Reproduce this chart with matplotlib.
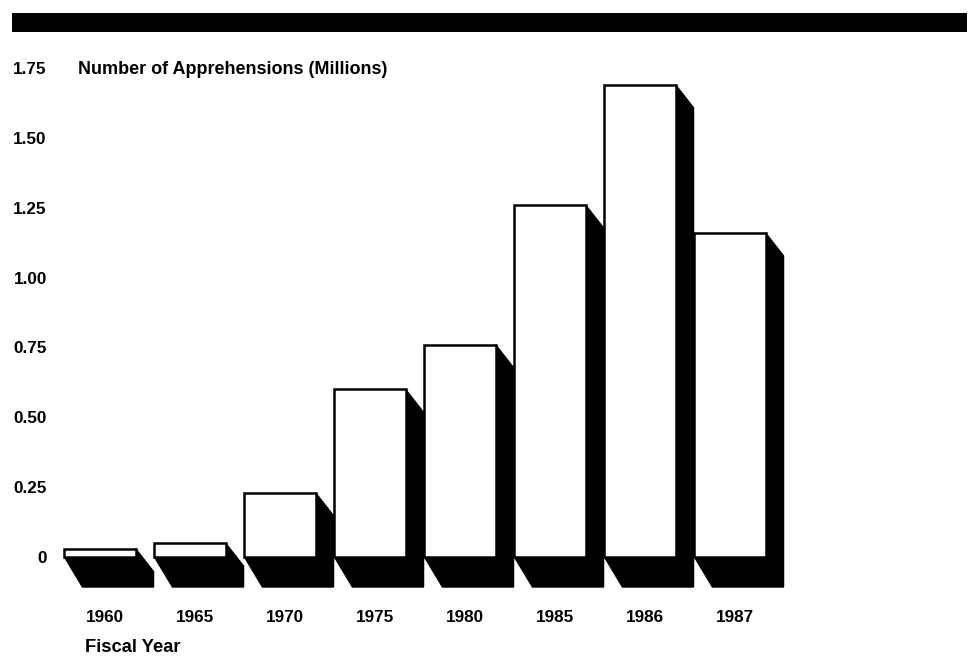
import matplotlib
matplotlib.use("Agg")
from matplotlib import pyplot as plt
from matplotlib.patches import Polygon, Rectangle

years = ["1960", "1965", "1970", "1975", "1980", "1985", "1986", "1987"]
apprehensions = [0.03, 0.05, 0.23, 0.60, 0.76, 1.26, 1.69, 1.16]
ytick_values = [0, 0.25, 0.50, 0.75, 1.00, 1.25, 1.50, 1.75]
ytick_labels = ["0", "0.25", "0.50", "0.75", "1.00", "1.25", "1.50", "1.75"]

W, H = 976, 658
plt.rcParams['font.family'] = ['Liberation Sans', 'DejaVu Sans']
plt.rcParams['font.weight'] = 'bold'

fig = plt.figure(figsize=(W / 100, H / 100), dpi=100)
fig.patch.set_facecolor("white")

# black banner along the top
fig.patches.append(Rectangle((12 / W, 1 - 32 / H), 955 / W, 19 / H,
                             transform=fig.transFigure, facecolor="black",
                             edgecolor="none"))

# plot area: y=0 sits at pixel row 557, 1.75 at row 68; bars every 90 px
ax = fig.add_axes([60 / W, (H - 557) / H, 740 / W, (557 - 68) / H])
ax.set_ylim(0, 1.75)
ax.set_xlim((60 - 100) / 90, (800 - 100) / 90)
for s in ax.spines.values():
    s.set_visible(False)

width = 0.79
dx = 18 / 90          # depth of the shaded side, in x units
dy_top = 23 / 279.4   # drop of the side face at the top
dy_bot = 30 / 279.4   # drop of the floor shadow

xs = list(range(len(years)))
for x, h in zip(xs, apprehensions):
    x0, x1 = x - width / 2, x + width / 2
    shade = Polygon([(x1, h), (x1 + dx, h - dy_top), (x1 + dx, -dy_bot),
                     (x0 + dx, -dy_bot), (x0, 0), (x1, 0)],
                    closed=True, facecolor="black", edgecolor="black",
                    lw=1, clip_on=False, zorder=1)
    ax.add_patch(shade)

ax.bar(xs, apprehensions, width=width, color="white", edgecolor="black",
       linewidth=1.8, zorder=2, clip_on=False)

ax.set_yticks(ytick_values)
ax.set_yticklabels(ytick_labels, fontsize=12.3, fontweight="bold")
ax.tick_params(axis="y", length=0, pad=9.5)
ax.set_xticks([x + 0.06 for x in xs])
ax.set_xticklabels(years, fontsize=12.3, fontweight="bold")
ax.tick_params(axis="x", length=0, pad=38)

fig.text(78 / W, 1 - 69 / H, "Number of Apprehensions (Millions)",
         fontsize=13, fontweight="bold", va="center", ha="left")
fig.text(85 / W, 1 - 647 / H, "Fiscal Year",
         fontsize=13.2, fontweight="bold", va="center", ha="left")

fig.savefig("out.png", dpi=100)
